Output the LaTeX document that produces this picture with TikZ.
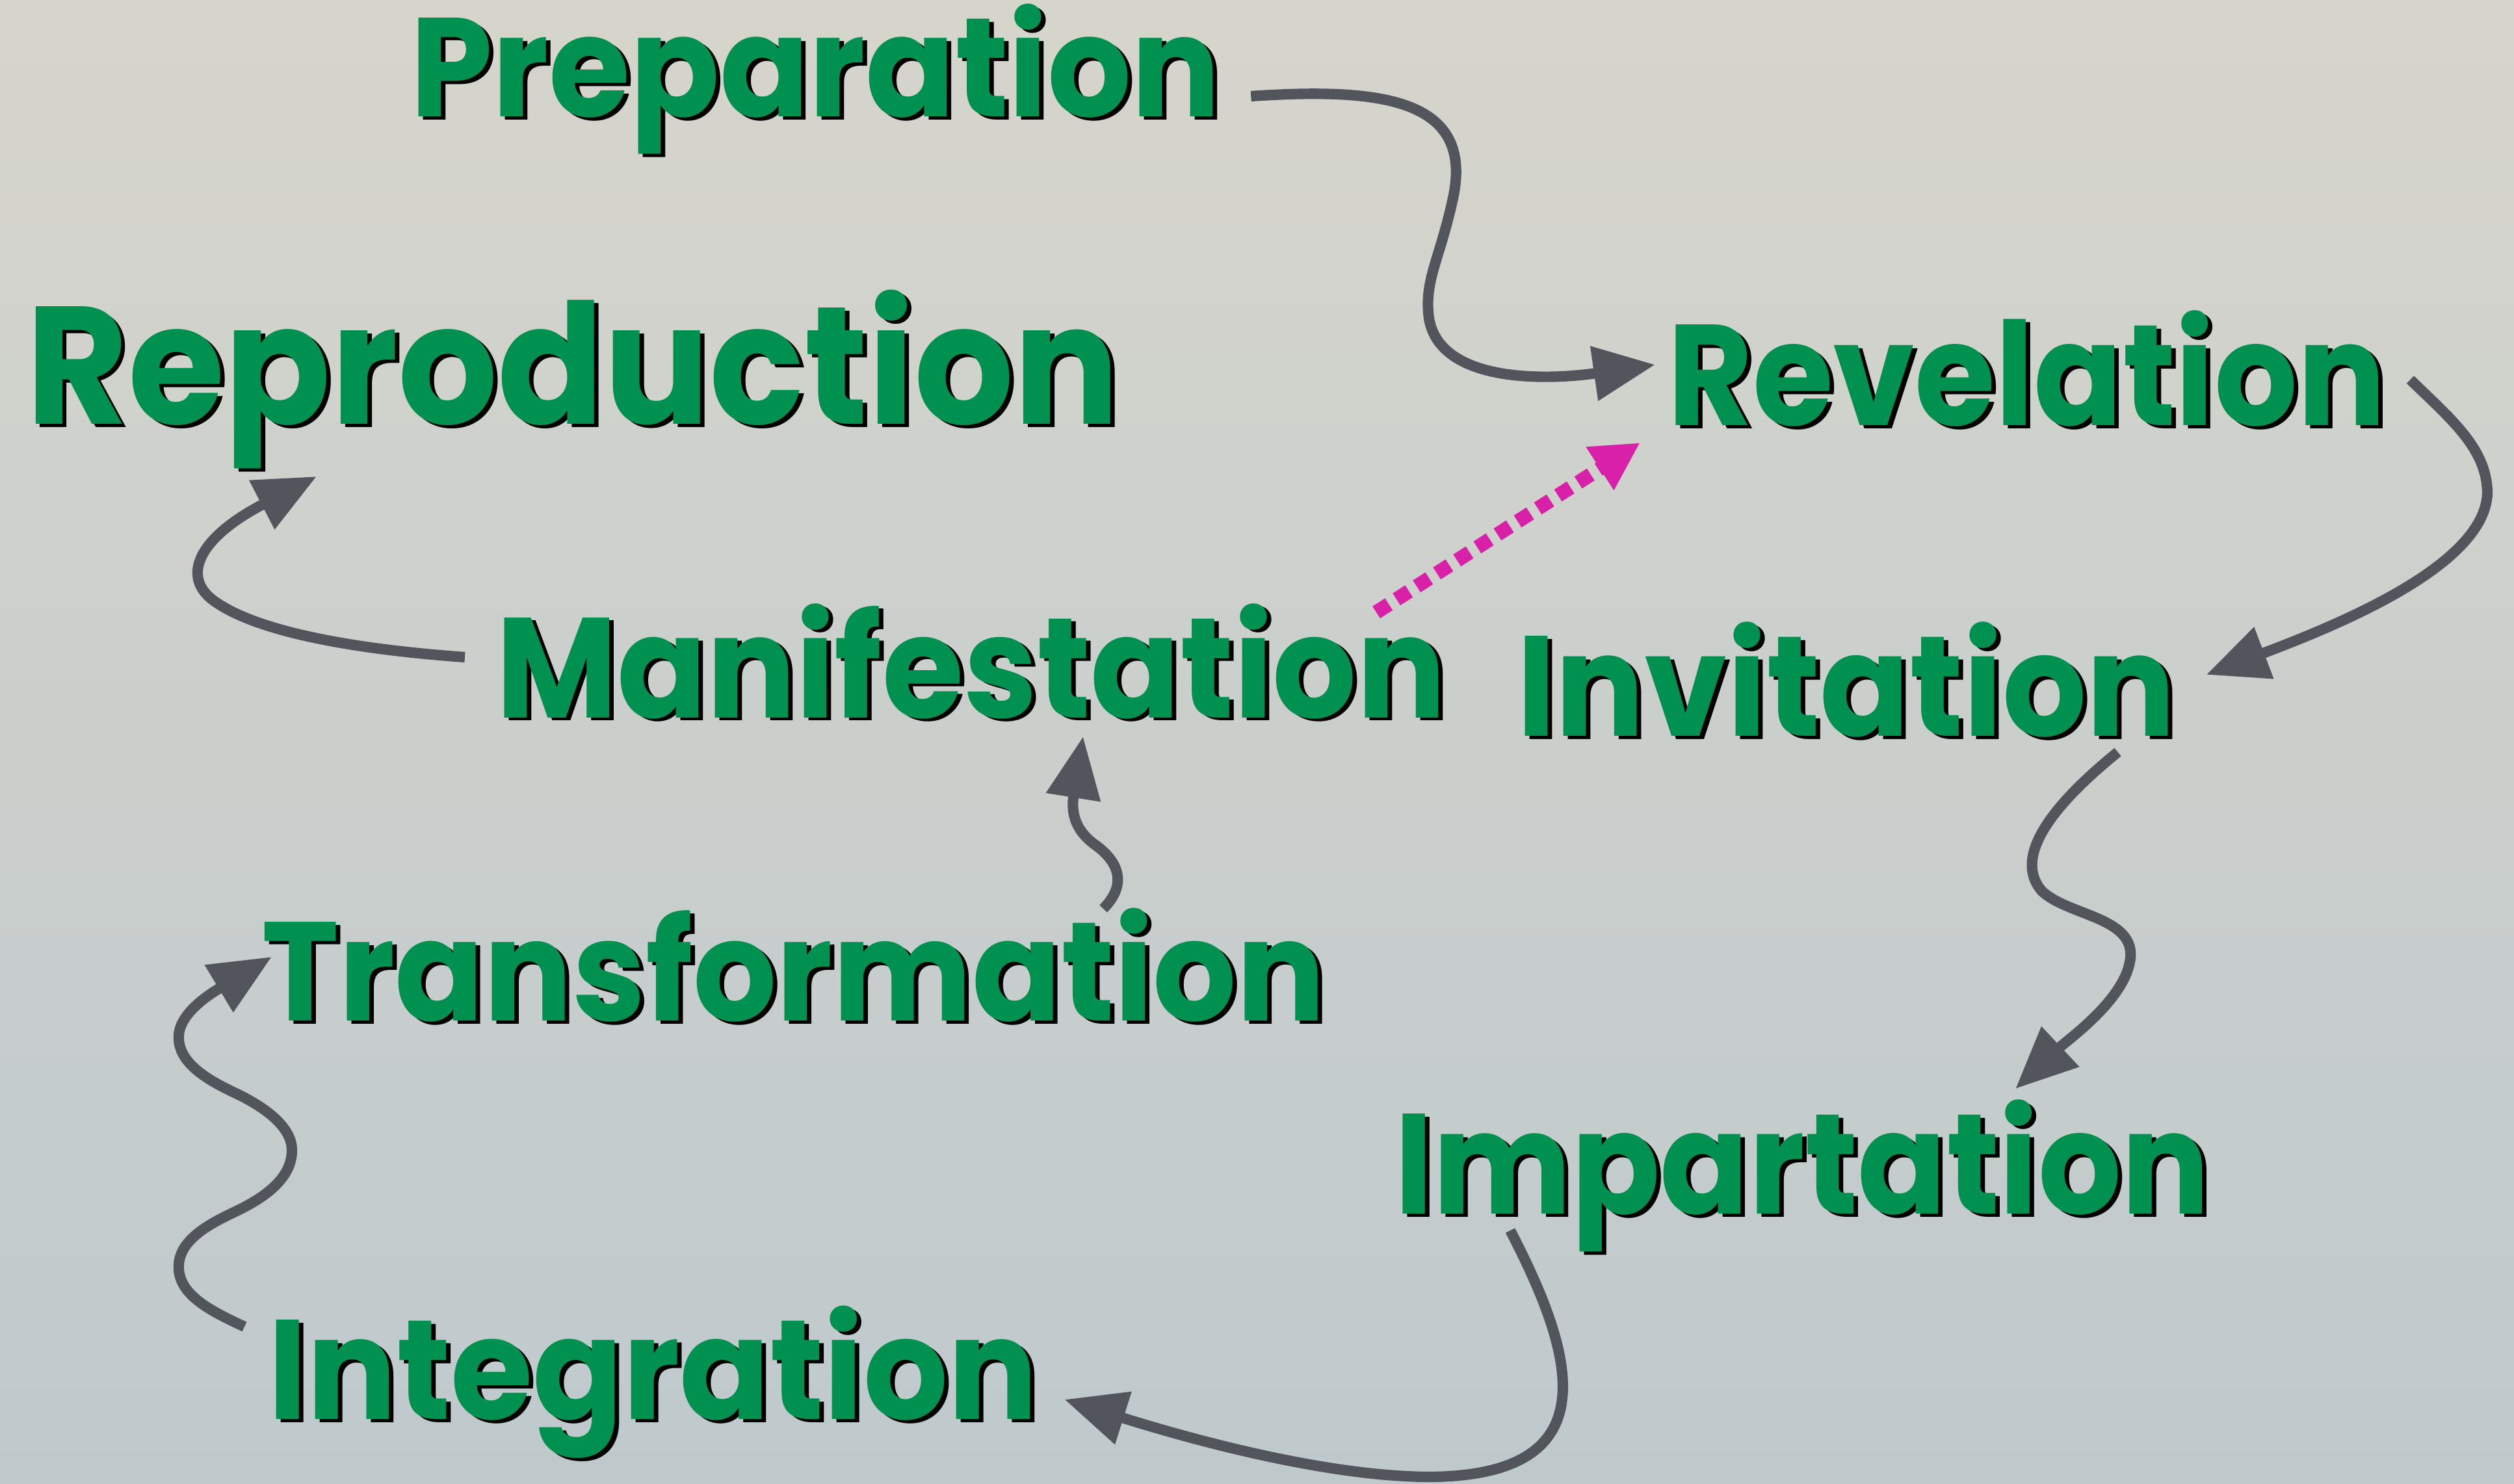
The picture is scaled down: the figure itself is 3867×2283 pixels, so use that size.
\documentclass[tikz,border=0pt]{standalone}
\usepackage{fontspec}
\newfontfamily\wf{Poppins}
\usetikzlibrary{arrows.meta}
\definecolor{bgtop}{RGB}{214,213,204}
\definecolor{bgmid}{RGB}{203,208,203}
\definecolor{bgbot}{RGB}{191,201,204}
\definecolor{wgreen}{RGB}{0,144,80}
\definecolor{agray}{RGB}{82,86,92}
\definecolor{amag}{RGB}{216,32,168}
\newdimen\pxu \pxu=0.01cm
\tikzset{
 wordbase/.style={anchor=base west, inner sep=0pt, outer sep=0pt, font=\wf\bfseries},
 wordtxt/.style={wordbase, text=wgreen},
 wordsh/.style={wordbase, text=black},
 conn/.style={draw=agray, line width=4.6pt, -{Triangle[length=27pt,width=23pt]}},
 dotconn/.style={draw=amag, line width=6.2pt, dash pattern=on 6.5pt off 4pt, -{Triangle[length=21pt,width=21pt]}},
}
% name, x, baseline y, width, cap height, text
\newcommand{\wlbl}[6]{%
 \node[wordsh] (#1s) at (#2+7,#3+5) {\resizebox{#4\pxu}{#5\pxu}{\vphantom{H}\smash{#6}}};
 \node[wordtxt] (#1) at (#2,#3) {\resizebox{#4\pxu}{#5\pxu}{\vphantom{H}\smash{#6}}};}
\begin{document}
\begin{tikzpicture}[x=0.01cm,y=-0.01cm]
\shade[top color=bgtop, middle color=bgmid, bottom color=bgbot] (0,0) rectangle (3867,2283);
\path[use as bounding box] (0,0) rectangle (3867,2283);

\wlbl{prep}{631}{180}{1246}{152}{Preparation}
\wlbl{repro}{40}{653}{1682}{181}{Reproduction}
\wlbl{rev}{2565}{655}{1104}{155}{Revelation}
\wlbl{manif}{763}{1104}{1461}{154}{Manifestation}
\wlbl{inv}{2333}{1133}{1013}{154}{Invitation}
\wlbl{trans}{402}{1570}{1636}{152}{Transformation}
\wlbl{imp}{2145}{1867}{1253}{154}{Impartation}
\wlbl{integ}{412}{2183}{1184}{153}{Integration}

% Preparation -> Revelation
\draw[conn] ([shift={(47,-32)}]prep.base east) .. controls (2120,135) and (2265,150) .. (2236,300)
  .. controls (2215,400) and (2190,430) .. (2198,490)
  .. controls (2215,590) and (2380,585) .. ([shift={(-19,-94)}]rev.base west);
% Revelation -> Invitation
\draw[conn] ([shift={(38,-71)}]rev.base east) .. controls (3770,645) and (3826,690) .. (3826,760)
  .. controls (3820,870) and (3600,960) .. ([shift={(47,-95)}]inv.base east);
% Invitation -> Impartation
\draw[conn] ([shift={(-89,24)}]inv.base east) .. controls (3180,1220) and (3090,1310) .. (3140,1370)
  .. controls (3180,1410) and (3290,1410) .. (3276,1480)
  .. controls (3265,1540) and (3180,1600) .. ([shift={(955,-192)}]imp.base west);
% Impartation -> Integration
\draw[conn] ([shift={(178,26)}]imp.base west) .. controls (2420,2080) and (2480,2270) .. (2200,2272)
  .. controls (2050,2272) and (1850,2220) .. ([shift={(41,-30)}]integ.base east);
% Integration -> Transformation
\draw[conn] ([shift={(-36,-142)}]integ.base west) .. controls (320,2015) and (272,1990) .. (275,1945)
  .. controls (278,1900) and (340,1875) .. (370,1860)
  .. controls (420,1835) and (450,1805) .. (449,1768)
  .. controls (448,1730) and (400,1700) .. (365,1683)
  .. controls (320,1662) and (272,1635) .. (275,1592)
  .. controls (278,1555) and (330,1525) .. ([shift={(16,-98)}]trans.base west);
% Transformation -> Manifestation
\draw[conn] ([shift={(1295,-172)}]trans.base west) .. controls (1735,1360) and (1720,1325) .. (1685,1300)
  .. controls (1650,1275) and (1648,1245) .. ([shift={(903,29)}]manif.base west);
% Manifestation -> Reproduction
\draw[conn] ([shift={(-48,-93)}]manif.base west) .. controls (560,1000) and (400,975) .. (330,925)
  .. controls (280,890) and (300,830) .. ([shift={(447,80)}]repro.base west);
% Manifestation -> Revelation (dotted)
\draw[dotconn] ([shift={(-107,-162)}]manif.base east) -- ([shift={(-42,26)}]rev.base west);
\end{tikzpicture}
\end{document}
